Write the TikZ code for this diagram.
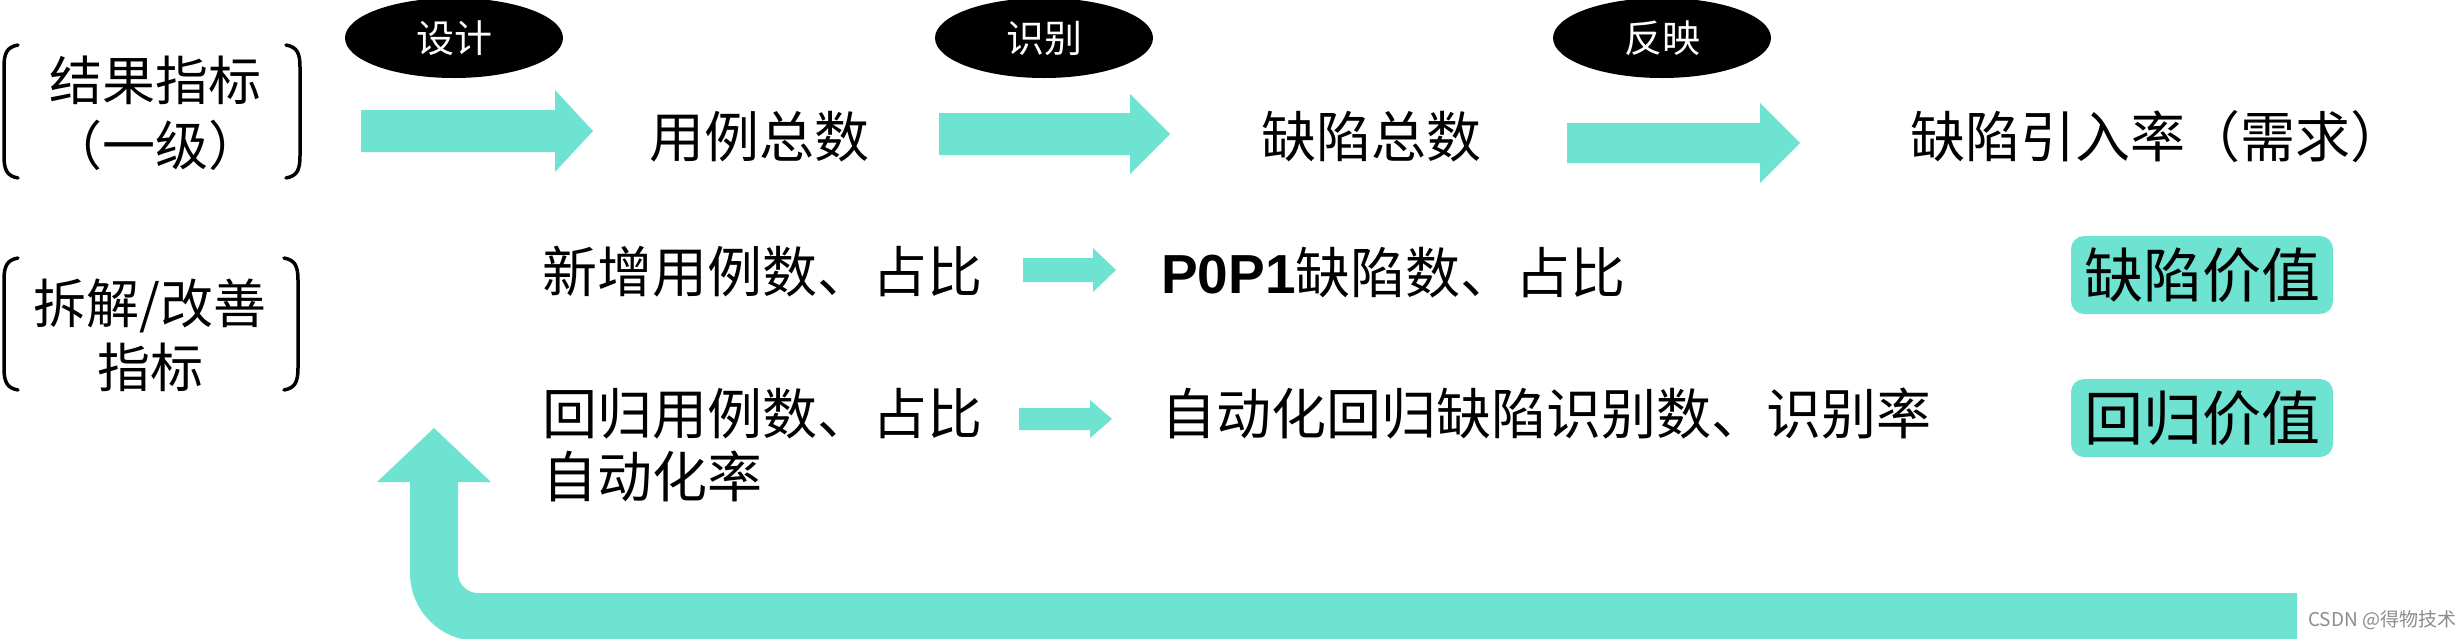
\documentclass[tikz,border=0pt]{standalone}
\usepackage{fontspec}
\setmainfont{Noto Sans CJK SC}
\newfontfamily\latb{Liberation Sans}
\usetikzlibrary{shapes.geometric}
\definecolor{mint}{RGB}{110,227,210}
\newcommand\blockarrow[6]{% x1, tip, headbase, yc, bodyhalf, headhalf
  \fill[mint] ({#1},{#4-#5}) -- ({#3},{#4-#5}) -- ({#3},{#4-#6}) -- ({#2},{#4})
    -- ({#3},{#4+#6}) -- ({#3},{#4+#5}) -- ({#1},{#4+#5}) -- cycle;}
\newcommand\leftbr[3]{% x, ytop, ybot
  \draw[brk] ({#1+14},{#2}) .. controls ({#1+3},{#2+2}) and ({#1},{#2+8}) .. ({#1},{#2+22})
    -- ({#1},{#3-22}) .. controls ({#1},{#3-8}) and ({#1+3},{#3-2}) .. ({#1+14},{#3});}
\newcommand\rightbr[3]{% x, ytop, ybot
  \draw[brk] ({#1-14},{#2}) .. controls ({#1-3},{#2+2}) and ({#1},{#2+8}) .. ({#1},{#2+22})
    -- ({#1},{#3-22}) .. controls ({#1},{#3-8}) and ({#1-3},{#3-2}) .. ({#1-14},{#3});}
\begin{document}
\begin{tikzpicture}[x=1pt,y=-1pt,
  txt/.style={font=\fontsize{55}{60}\selectfont, inner sep=0, anchor=base west},
  brtxt/.style={font=\fontsize{53}{60}\selectfont, inner sep=0, anchor=base},
  ell/.style={ellipse, fill=black, minimum width=218, minimum height=80, inner sep=0,
    text=white, font=\fontsize{38}{42}\selectfont},
  valbox/.style={rectangle, rounded corners=13, fill=mint, minimum width=262,
    minimum height=78, inner sep=0, font=\fontsize{59}{64}\selectfont},
  brk/.style={line width=3.5, line cap=round},
  wm/.style={font=\fontsize{19}{20}\selectfont, text=black!45, inner sep=0}]
\useasboundingbox (0,0) rectangle (2460,638);
\fill[white] (0,0) rectangle (2460,638);

% ellipse labels
\node[ell] (e1) at (454,38) {设计};
\node[ell] (e2) at (1044,38) {识别};
\node[ell] (e3) at (1662,38) {反映};

% brackets
\leftbr{4}{45}{178}
\rightbr{300}{45}{178}
\node[brtxt] (b1a) at (155,100) {结果指标};
\node[brtxt] (b1b) at (155,165) {（一级）};
\leftbr{4}{258}{390}
\rightbr{298}{258}{390}
\node[brtxt] (b2a) at (150,323) {拆解/改善};
\node[brtxt] (b2b) at (150,387) {指标};

% row 1
\blockarrow{361}{593}{555}{131}{21}{41}
\node[txt] (t1) at (649,157.5) {用例总数};
\blockarrow{939}{1170}{1130}{134}{21}{40}
\node[txt] (t2) at (1261,157.5) {缺陷总数};
\blockarrow{1567}{1800}{1760}{143}{20}{40}
\node[txt] (t3) at (1910,157.5) {缺陷引入率（需求）};

% row 2
\node[txt] (r2a) at (542,292.5) {新增用例数、占比};
\blockarrow{1023}{1116}{1093}{270}{12}{22}
\node[txt] (r2b) at (1161,293) {{\latb\bfseries P0P1}缺陷数、占比};
\node[valbox] (v1) at (2202,275) {缺陷价值};

% row 3
\node[txt] (r3a) at (542,434.5) {回归用例数、占比};
\node[txt] (r3c) at (542,497.5) {自动化率};
\blockarrow{1019}{1112}{1090}{419}{11}{19}
\node[txt] (r3b) at (1161,434.5) {自动化回归缺陷识别数、识别率};
\node[valbox] (v2) at (2202,418) {回归价值};

% feedback arrow
\coordinate (fbstart) at (2297,617);
\coordinate (fbcorner) at (434,617);
\coordinate (fbend) at (434,481);
\draw[mint, line width=48, rounded corners=44] (fbstart) -- (fbcorner) -- (fbend);
\fill[mint] (377,482) -- (434,428) -- (491,482) -- cycle;

% watermark
\node[wm, anchor=west] (wm) at (2308,620) {CSDN @得物技术};
\end{tikzpicture}
\end{document}
